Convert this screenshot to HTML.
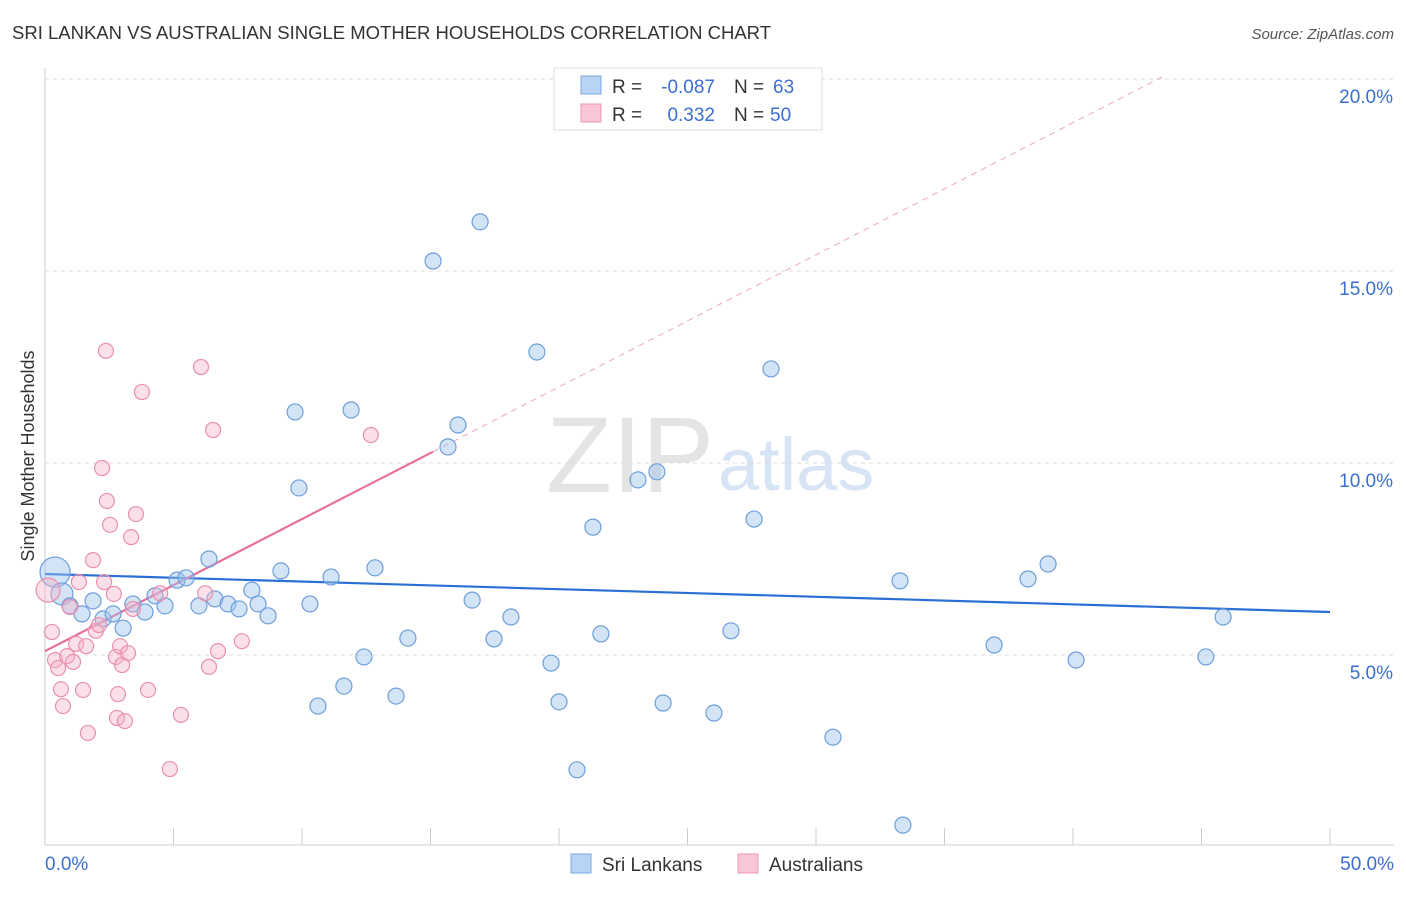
<!DOCTYPE html>
<html><head><meta charset="utf-8">
<style>
body{margin:0;background:#fff;width:1406px;height:892px;overflow:hidden;font-family:"Liberation Sans",sans-serif}
svg text{font-family:"Liberation Sans",sans-serif}
</style></head>
<body>
<svg id="chart" width="1406" height="892" xmlns="http://www.w3.org/2000/svg">
<text x="12" y="39" font-size="18.5" fill="#333">SRI LANKAN VS AUSTRALIAN SINGLE MOTHER HOUSEHOLDS CORRELATION CHART</text>
<text x="1394" y="39" font-size="15" fill="#555" font-style="italic" text-anchor="end">Source: ZipAtlas.com</text>
<text x="714" y="492" font-size="108" fill="#e4e4e4" text-anchor="end" font-family="Liberation Serif">ZIP</text>
<text x="718" y="490" font-size="74" fill="#d6e4f5">atlas</text>
<g id="grid"></g>
<g id="axes"></g>
<g id="trends"></g>
<g id="points"></g>
<text x="34" y="456" font-size="18" fill="#333" text-anchor="middle" transform="rotate(-90 34 456)">Single Mother Households</text>
<g>
<rect x="554" y="68" width="268" height="62" fill="#fff" stroke="#ddd"/>
<rect x="581" y="76" width="20" height="18" fill="#b8d3f3" stroke="#7aa8e0"/>
<rect x="581" y="104" width="20" height="18" fill="#f8c6d5" stroke="#ea9ab3"/>
<text x="612" y="93" font-size="19" fill="#333">R =</text>
<text x="715" y="93" font-size="19" fill="#3b6fd1" text-anchor="end">-0.087</text>
<text x="734" y="93" font-size="19" fill="#333">N =</text>
<text x="773" y="93" font-size="19" fill="#3b6fd1">63</text>
<text x="612" y="121" font-size="19" fill="#333">R =</text>
<text x="715" y="121" font-size="19" fill="#3b6fd1" text-anchor="end">0.332</text>
<text x="734" y="121" font-size="19" fill="#333">N =</text>
<text x="770" y="121" font-size="19" fill="#3b6fd1">50</text>
</g>
<g>
<rect x="571" y="854" width="20" height="19" fill="#b8d3f3" stroke="#7aa8e0"/>
<text x="602" y="871" font-size="19" fill="#333">Sri Lankans</text>
<rect x="738" y="854" width="20" height="19" fill="#f8c6d5" stroke="#ea9ab3"/>
<text x="769" y="871" font-size="19" fill="#333">Australians</text>
</g>
</svg>
<script>
const blueX=[0.39,0.66,0.97,1.44,1.87,2.26,2.65,3.04,3.42,3.89,4.28,4.67,5.14,5.49,5.99,6.38,6.61,7.12,7.55,8.05,8.29,8.68,9.18,9.73,9.88,10.31,10.62,11.13,11.63,11.91,12.41,12.84,13.66,14.12,15.10,15.68,16.07,16.62,16.93,17.47,18.13,19.14,19.69,20.00,20.70,21.32,21.63,23.07,23.81,24.05,26.03,26.69,27.59,28.25,30.66,33.27,33.38,36.93,38.25,39.03,40.12,45.17,45.84];
const blueY=[7.16,6.59,6.28,6.07,6.41,5.94,6.07,5.70,6.33,6.12,6.54,6.28,6.95,7.01,6.28,7.50,6.46,6.33,6.20,6.69,6.33,6.02,7.19,11.33,9.35,6.33,3.67,7.03,4.19,11.38,4.95,7.27,3.93,5.44,15.26,10.42,10.99,6.43,16.28,5.42,5.99,12.89,4.79,3.78,2.01,8.33,5.55,9.56,9.77,3.75,3.49,5.63,8.54,12.45,2.86,6.93,0.57,5.26,6.98,7.37,4.87,4.95,5.99];
const pinkX=[0.12,0.27,0.39,0.51,0.62,0.70,0.86,0.97,1.09,1.21,1.32,1.48,1.60,1.67,1.87,1.98,2.10,2.22,2.30,2.37,2.41,2.53,2.68,2.76,2.84,2.80,2.92,3.00,3.11,3.23,3.35,3.42,3.54,3.77,4.01,4.48,4.86,5.29,6.07,6.23,6.38,6.54,6.73,7.66,12.68];
const pinkY=[6.69,5.60,4.87,4.66,4.11,3.67,4.97,6.25,4.82,5.29,6.90,4.09,5.23,2.97,7.47,5.63,5.78,9.87,6.90,12.92,9.01,8.39,6.59,4.95,3.98,3.36,5.23,4.74,3.28,5.05,8.07,6.20,8.67,11.85,4.09,6.61,2.03,3.44,12.50,6.61,4.69,10.86,5.10,5.36,10.73];
const blueTrend=[7.11,-0.0198];
const pinkTrend=[5.10,0.344];
const yTicks=[5,10,15,20];
const xTicks=[0,5,10,15,20,25,30,35,40,45,50];
const xLabels=["0.0%","50.0%"];

const NS="http://www.w3.org/2000/svg";
const sx=v=>45+v*25.7, sy=v=>847-v*38.4;
function mk(tag,attrs,parent){const e=document.createElementNS(NS,tag);for(const k in attrs)e.setAttribute(k,attrs[k]);parent.appendChild(e);return e;}
const grid=document.getElementById('grid'),axes=document.getElementById('axes'),tr=document.getElementById('trends'),pts=document.getElementById('points');
yTicks.forEach(t=>{
 const l=mk('line',{x1:45,x2:1394,y1:sy(t),y2:sy(t),stroke:'#ddd','stroke-dasharray':'4,4'},grid);
 
 
 const tx=mk('text',{x:1393,y:sy(t)+24,'font-size':19,fill:'#3b6fd1','text-anchor':'end'},grid);
 tx.textContent=t.toFixed(1)+'%';
 
 
});
let ax=mk('line',{x1:45,x2:45,y1:68,y2:845,stroke:'#ccc'},axes);


ax=mk('line',{x1:45,x2:1394,y1:845,y2:845,stroke:'#ccc'},axes);


xTicks.forEach(t=>{
 const l=mk('line',{x1:sx(t),x2:sx(t),y1:828,y2:845,stroke:'#ccc'},axes);
 
 
});
let xl=mk('text',{x:45,y:870,'font-size':19,fill:'#3b6fd1'},axes);xl.textContent=xLabels[0];


xl=mk('text',{x:1394,y:870,'font-size':19,fill:'#3b6fd1','text-anchor':'end'},axes);xl.textContent=xLabels[1];



blueX.forEach((x,i)=>{
 const r=i===0?15:(i===1?11:8);
 const c=mk('circle',{cx:sx(x),cy:sy(blueY[i]),r:r,fill:'rgba(160,196,238,0.45)',stroke:'#6d9edb','stroke-width':1.2},pts);
 
 
});
pinkX.forEach((x,i)=>{
 const r=i===0?12:7.5;
 const c=mk('circle',{cx:sx(x),cy:sy(pinkY[i]),r:r,fill:'rgba(246,178,200,0.4)',stroke:'#e98fad','stroke-width':1.2},pts);
 
 
});
let l=mk('line',{x1:sx(0),y1:sy(blueTrend[0]),x2:sx(50),y2:sy(blueTrend[0]+50*blueTrend[1]),stroke:'#2a6fd6','stroke-width':2.2},tr);


const pEnd=15.1, xTop=(20.05-pinkTrend[0])/pinkTrend[1];
l=mk('line',{x1:sx(0),y1:sy(pinkTrend[0]),x2:sx(pEnd),y2:sy(pinkTrend[0]+pEnd*pinkTrend[1]),stroke:'#e8709a','stroke-width':2.2},tr);


l=mk('line',{x1:sx(pEnd),y1:sy(pinkTrend[0]+pEnd*pinkTrend[1]),x2:sx(xTop),y2:sy(20.05),stroke:'#eda5bd','stroke-width':1,'stroke-dasharray':'6,5'},tr);


</script>
</body></html>
